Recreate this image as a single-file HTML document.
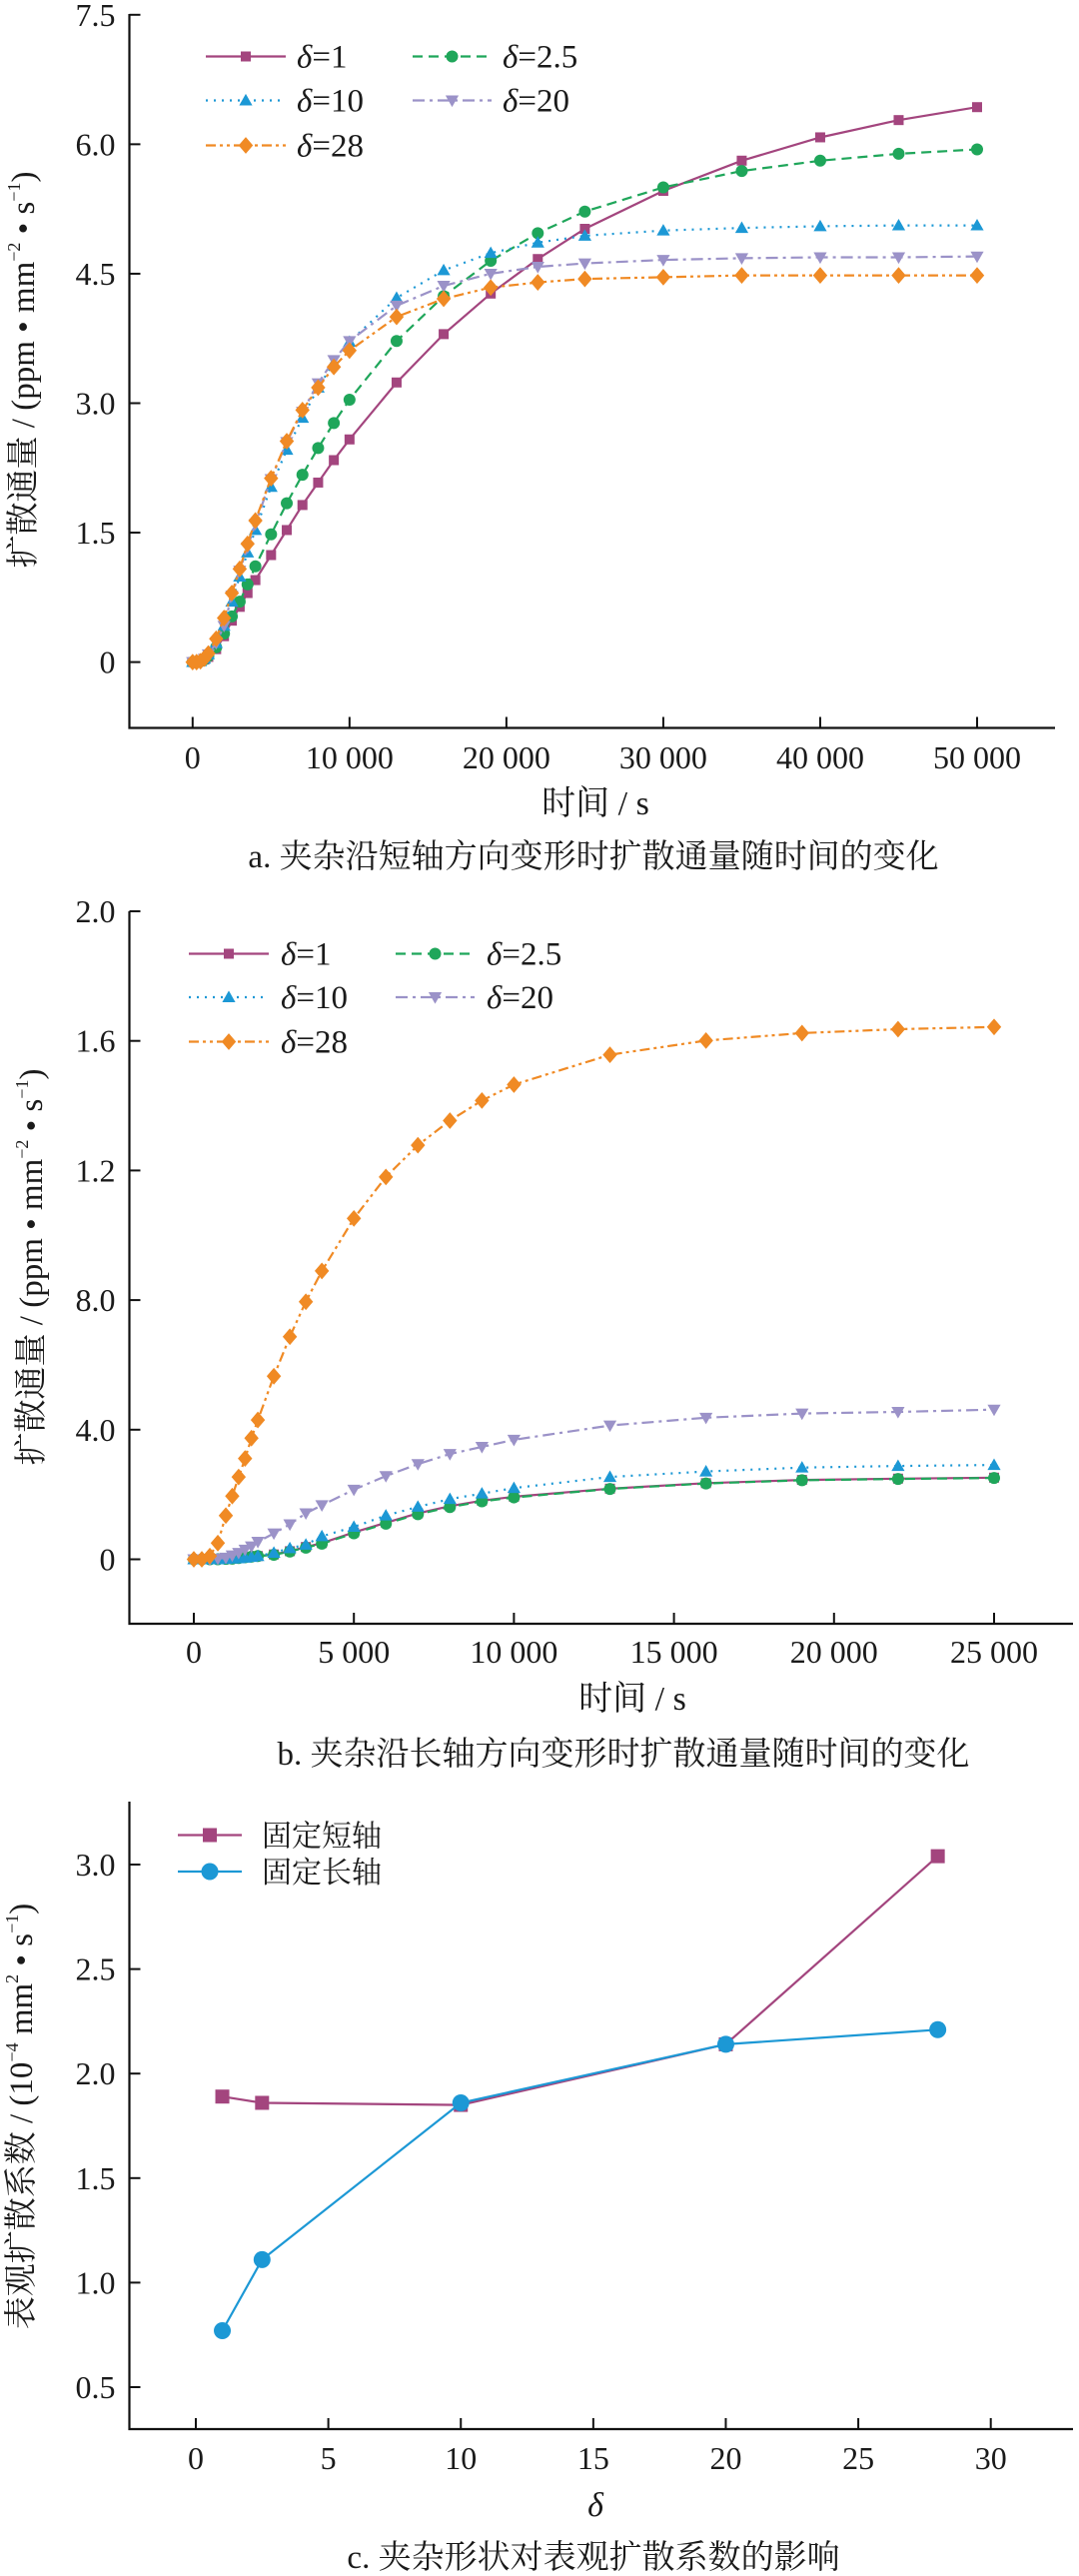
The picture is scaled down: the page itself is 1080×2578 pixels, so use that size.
<!DOCTYPE html>
<html><head><meta charset="utf-8">
<style>
html,body{margin:0;padding:0;background:#fff;}
svg{display:block;}
text{font-family:"Liberation Serif","Noto Serif CJK SC",serif;fill:#1a1a1a;}
</style></head>
<body>
<svg id="root" width="1080" height="2578" viewBox="0 0 1080 2578" xmlns="http://www.w3.org/2000/svg"></svg>
<script>
// ---------- Chart A data ----------
const aX = [0,250,500,750,1000,1500,2000,2500,3000,3500,4000,5000,6000,7000,8000,9000,10000,13000,16000,19000,22000,25000,30000,35000,40000,45000,50000];
const aD1  = [0,0,0.01,0.03,0.06,0.15,0.3,0.48,0.64,0.8,0.95,1.24,1.53,1.82,2.08,2.34,2.58,3.24,3.8,4.27,4.67,5.02,5.46,5.81,6.08,6.28,6.43];
const aD25 = [0,0,0.01,0.03,0.07,0.17,0.33,0.53,0.7,0.9,1.11,1.48,1.84,2.17,2.48,2.77,3.04,3.72,4.24,4.65,4.97,5.22,5.5,5.69,5.81,5.89,5.94];
const aD10 = [0,0,0.01,0.04,0.09,0.22,0.42,0.7,0.99,1.27,1.53,2.03,2.46,2.83,3.18,3.47,3.71,4.22,4.54,4.74,4.86,4.94,5.0,5.03,5.05,5.06,5.06];
const aD20 = [0,0,0.01,0.04,0.09,0.22,0.42,0.77,1.06,1.33,1.6,2.12,2.55,2.9,3.23,3.5,3.72,4.13,4.36,4.5,4.58,4.62,4.66,4.68,4.69,4.69,4.7];
const aD28 = [0,0,0.01,0.04,0.1,0.27,0.51,0.8,1.08,1.37,1.64,2.13,2.56,2.92,3.18,3.42,3.61,4.0,4.21,4.34,4.4,4.44,4.46,4.48,4.48,4.48,4.48];
const aXTicks = [0,10000,20000,30000,40000,50000];
const aXTickLabels = ["0","10 000","20 000","30 000","40 000","50 000"];
const aYTicks = [0,1.5,3.0,4.5,6.0,7.5];
const aYTickLabels = ["0","1.5","3.0","4.5","6.0","7.5"];
// ---------- Chart B data ----------
const bX = [0,250,500,750,1000,1200,1400,1600,1800,2000,2500,3000,3500,4000,5000,6000,7000,8000,9000,10000,13000,16000,19000,22000,25000];
const bD1  = [0,0,0,0,0.001,0.002,0.004,0.006,0.008,0.01,0.015,0.025,0.038,0.05,0.083,0.113,0.142,0.164,0.181,0.193,0.218,0.235,0.245,0.249,0.252];
const bD25 = [0,0,0,0,0.001,0.002,0.004,0.006,0.008,0.01,0.014,0.024,0.036,0.048,0.08,0.11,0.139,0.161,0.179,0.191,0.217,0.234,0.244,0.248,0.251];
const bD10 = [0,0,0,0,0.001,0.002,0.003,0.005,0.007,0.01,0.02,0.034,0.045,0.071,0.1,0.135,0.162,0.186,0.203,0.22,0.254,0.271,0.283,0.288,0.291];
const bD20 = [0,0,0,0.002,0.005,0.012,0.02,0.03,0.04,0.054,0.08,0.108,0.142,0.167,0.215,0.257,0.294,0.325,0.347,0.369,0.413,0.437,0.45,0.455,0.462];
const bD28 = [0,0,0.01,0.05,0.135,0.195,0.254,0.311,0.374,0.43,0.565,0.687,0.795,0.89,1.052,1.18,1.278,1.354,1.416,1.465,1.557,1.601,1.624,1.636,1.643];
const bXTicks = [0,5000,10000,15000,20000,25000];
const bXTickLabels = ["0","5 000","10 000","15 000","20 000","25 000"];
const bYTicks = [0,0.4,0.8,1.2,1.6,2.0];
const bYTickLabels = ["0","4.0","8.0","1.2","1.6","2.0"];
// ---------- Chart C data ----------
const cX = [1,2.5,10,20,28];
const cShort = [1.89,1.86,1.85,2.14,3.04];
const cLong  = [0.77,1.11,1.86,2.14,2.21];
const cXTicks = [0,5,10,15,20,25,30];
const cXTickLabels = ["0","5","10","15","20","25","30"];
const cYTicks = [0.5,1.0,1.5,2.0,2.5,3.0];
const cYTickLabels = ["0.5","1.0","1.5","2.0","2.5","3.0"];

const NS = "http://www.w3.org/2000/svg";
const root = document.getElementById('root');
function mk(tag, attrs, parent){
  const e = document.createElementNS(NS, tag);
  for (const k in attrs) e.setAttribute(k, attrs[k]);
  (parent||root).appendChild(e);
  return e;
}
const C = {purple:"#a3457e", green:"#1fa65a", blue:"#1c98d5", lav:"#9b92c8", orange:"#f08a24"};

function marker(g, shape, x, y, color, s){
  let e;
  if (shape==='square') e = mk('rect',{x:x-s/2,y:y-s/2,width:s,height:s,fill:color},g);
  else if (shape==='circle') e = mk('circle',{cx:x,cy:y,r:s/2+0.5,fill:color},g);
  else if (shape==='tri') e = mk('polygon',{points:`${x},${y-s*0.6} ${x-s*0.6},${y+s*0.45} ${x+s*0.6},${y+s*0.45}`,fill:color},g);
  else if (shape==='itri') e = mk('polygon',{points:`${x},${y+s*0.6} ${x-s*0.6},${y-s*0.45} ${x+s*0.6},${y-s*0.45}`,fill:color},g);
  else e = mk('polygon',{points:`${x},${y-s*0.7} ${x+s*0.6},${y} ${x},${y+s*0.7} ${x-s*0.6},${y}`,fill:color},g);
  return e;
}

function axes(g, o){
  // axis lines
  const ax = mk('path',{d:`M${o.x0},${o.top} L${o.x0},${o.bottom} L${o.right},${o.bottom}`,fill:'none',stroke:'#111','stroke-width':2.2},g);
  
  
  o.yTicks.forEach((v,i)=>{
    const y = o.sy(v);
    const t = mk('line',{x1:o.x0,x2:o.x0+11,y1:y,y2:y,stroke:'#111','stroke-width':2},g);
    
    
    const l = mk('text',{x:o.x0-14,y:y+11,'text-anchor':'end','font-size':32},g);
    l.textContent = o.yLabels[i];
    
    
  });
  o.xTicks.forEach((v,i)=>{
    const x = o.sx(v);
    const t = mk('line',{x1:x,x2:x,y1:o.bottom,y2:o.bottom-11,stroke:'#111','stroke-width':2},g);
    
    
    const l = mk('text',{x:x,y:o.tickY,'text-anchor':'middle','font-size':32},g);
    l.textContent = o.xLabels[i];
    
    
  });
}

function series(g, xs, ys, sx, sy, color, dash, shape, ms, name){
  const pts = xs.map((x,i)=>`${sx(x).toFixed(1)},${sy(ys[i]).toFixed(1)}`).join(' ');
  const sg = mk('g',{},g);
  
  
  mk('polyline',{points:pts,fill:'none',stroke:color,'stroke-width':2.2,'stroke-dasharray':dash},sg);
  xs.forEach((x,i)=>{
    const m = marker(sg, shape, sx(x), sy(ys[i]), color, ms);
    
    
  });
}

function legendEntry(g, x1, x2, y, tx, color, dash, shape, label, ms, isCJK){
  const lg = mk('g',{},g);
  
  
  mk('line',{x1:x1,x2:x2,y1:y,y2:y,stroke:color,'stroke-width':2.2,'stroke-dasharray':dash},lg);
  marker(lg, shape, (x1+x2)/2, y, color, ms);
  const t = mk('text',{x:tx,y:y+11,'font-size':isCJK?30:33},lg);
  if (isCJK) t.textContent = label;
  else {
    const d = mk('tspan',{'font-style':'italic'},t); d.textContent='δ';
    const r = mk('tspan',{},t); r.textContent='='+label;
  }
}

function yTitle(g, x, y, pre, sup1, mid, sup2){
  const t = mk('text',{transform:`translate(${x},${y}) rotate(-90)`,'text-anchor':'middle','font-size':33},g);
  
  
  const a = mk('tspan',{},t); a.textContent = pre;
  const b = mk('tspan',{'font-size':18,dy:-14},t); b.textContent = sup1;
  const c = mk('tspan',{dy:14},t); c.textContent = mid;
  const d = mk('tspan',{'font-size':18,dy:-14},t); d.textContent = sup2;
  const e = mk('tspan',{dy:14},t); e.textContent = ')';
}
function textAt(g, x, y, s, fs, name){
  const t = mk('text',{x:x,y:y,'text-anchor':'middle','font-size':fs},g);
  t.textContent = s;
  
  
  return t;
}
const DASH = {solid:'', dash:'10,6', dot:'2,6', dashdot:'12,5,3,5', dashdotdot:'10,4,3,4,3,4'};

// ================= Chart A =================
(function(){
  const g = mk('g',{});  
  const x0=129.5, bottom=728.5, top=14, right=1056;
  const sx = v => 192.8 + v/50000*(978-192.8);
  const sy = v => 662.6 - v/7.5*(662.6-14.8);
  axes(g,{x0,bottom,top,right,sx,sy,xTicks:aXTicks,xLabels:aXTickLabels,yTicks:aYTicks,yLabels:aYTickLabels,tickY:769});
  series(g,aX,aD1,sx,sy,C.purple,DASH.solid,'square',10,'series-delta-1');
  series(g,aX,aD25,sx,sy,C.green,DASH.dash,'circle',11,'series-delta-2-5');
  series(g,aX,aD10,sx,sy,C.blue,DASH.dot,'tri',11,'series-delta-10');
  series(g,aX,aD20,sx,sy,C.lav,DASH.dashdot,'itri',11,'series-delta-20');
  series(g,aX,aD28,sx,sy,C.orange,DASH.dashdotdot,'diamond',12,'series-delta-28');
  const lg = mk('g',{},g);  
  legendEntry(lg,206,286,56.5,297,C.purple,DASH.solid,'square','1',10);
  legendEntry(lg,413,492,56.5,503,C.green,DASH.dash,'circle','2.5',11);
  legendEntry(lg,206,286,100.5,297,C.blue,DASH.dot,'tri','10',11);
  legendEntry(lg,413,492,100.5,503,C.lav,DASH.dashdot,'itri','20',11);
  legendEntry(lg,206,286,145.5,297,C.orange,DASH.dashdotdot,'diamond','28',12);
  yTitle(g,34,370,'扩散通量 / (ppm • mm','−2',' • s','−1');
  textAt(g,596,815,'时间 / s',34,'x-axis-title');
  textAt(g,594,868,'a. 夹杂沿短轴方向变形时扩散通量随时间的变化',33,'caption-a');
})();

// ================= Chart B =================
(function(){
  const g = mk('g',{});  
  const x0=129.5, bottom=1625, top=912, right=1074;
  const sx = v => 194 + v/25000*(995-194);
  const sy = v => 1560.5 - v/2.0*(1560.5-912);
  axes(g,{x0,bottom,top,right,sx,sy,xTicks:bXTicks,xLabels:bXTickLabels,yTicks:bYTicks,yLabels:bYTickLabels,tickY:1664});
  series(g,bX,bD1,sx,sy,C.purple,DASH.solid,'square',10,'series-delta-1');
  series(g,bX,bD25,sx,sy,C.green,DASH.dash,'circle',11,'series-delta-2-5');
  series(g,bX,bD10,sx,sy,C.blue,DASH.dot,'tri',11,'series-delta-10');
  series(g,bX,bD20,sx,sy,C.lav,DASH.dashdot,'itri',11,'series-delta-20');
  series(g,bX,bD28,sx,sy,C.orange,DASH.dashdotdot,'diamond',12,'series-delta-28');
  const lg = mk('g',{},g);  
  legendEntry(lg,189,269,954.5,281,C.purple,DASH.solid,'square','1',10);
  legendEntry(lg,396,475,954.5,487,C.green,DASH.dash,'circle','2.5',11);
  legendEntry(lg,189,269,998,281,C.blue,DASH.dot,'tri','10',11);
  legendEntry(lg,396,475,998,487,C.lav,DASH.dashdot,'itri','20',11);
  legendEntry(lg,189,269,1042.5,281,C.orange,DASH.dashdotdot,'diamond','28',12);
  yTitle(g,42,1268,'扩散通量 / (ppm • mm','−2',' • s','−1');
  textAt(g,633,1711,'时间 / s',34,'x-axis-title');
  textAt(g,624,1766,'b. 夹杂沿长轴方向变形时扩散通量随时间的变化',33,'caption-b');
})();

// ================= Chart C =================
(function(){
  const g = mk('g',{});  
  const x0=129.5, bottom=2431, top=1803, right=1074;
  const sx = v => 196 + v/30*(991.7-196);
  const sy = v => 2389 - (v-0.5)/2.5*(2389-1866);
  axes(g,{x0,bottom,top,right,sx,sy,xTicks:cXTicks,xLabels:cXTickLabels,yTicks:cYTicks,yLabels:cYTickLabels,tickY:2471});
  series(g,cX,cShort,sx,sy,C.purple,DASH.solid,'square',14,'series-fixed-short-axis');
  series(g,cX,cLong,sx,sy,C.blue,DASH.solid,'circle',16,'series-fixed-long-axis');
  const lg = mk('g',{},g);  
  legendEntry(lg,178,242,1836.5,262,C.purple,DASH.solid,'square','固定短轴',14,true);
  legendEntry(lg,178,242,1873,262,C.blue,DASH.solid,'circle','固定长轴',16,true);
  yTitle(g,32,2118,'表观扩散系数 / (10','−4',' mm','2');
  // fix: c title has " • s⁻¹)" — rebuild properly
  g.lastChild.remove();
  const t = mk('text',{transform:'translate(32,2118) rotate(-90)','text-anchor':'middle','font-size':33},g);
  
  
  const parts=[['表观扩散系数 / (10',0],['−4',-14],[' mm',14],['2',-14],[' • s',14],['−1',-14],[')',14]];
  parts.forEach(p=>{const s=mk('tspan',{dy:p[1]},t); if(p[0]==='−4'||p[0]==='2'||p[0]==='−1') s.setAttribute('font-size',18); s.textContent=p[0];});
  const d = textAt(g,596,2518,'δ',34,'x-axis-title'); d.setAttribute('font-style','italic');
  textAt(g,594,2570,'c. 夹杂形状对表观扩散系数的影响',33,'caption-c');
})();
</script>
</body></html>
